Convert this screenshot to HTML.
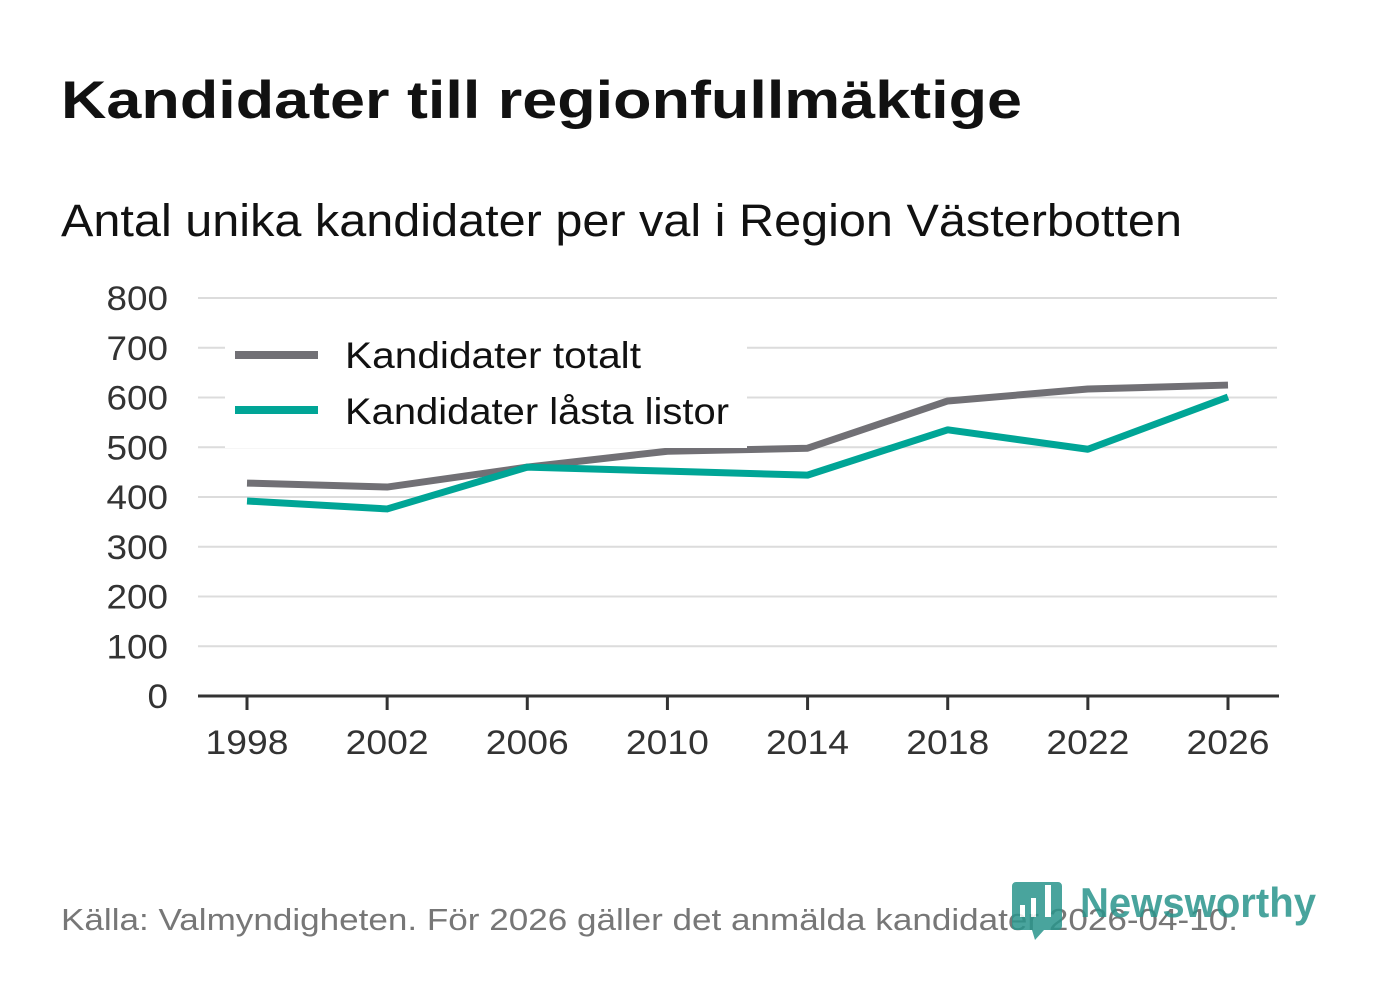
<!DOCTYPE html>
<html><head><meta charset="utf-8"><style>
body{margin:0;background:#fff;width:1382px;height:999px;overflow:hidden;font-family:"Liberation Sans",sans-serif}
svg{display:block}
</style></head><body>
<svg width="1382" height="999" id="svg">
<text x="61" y="118" font-size="53" font-weight="bold" fill="#111" textLength="961" lengthAdjust="spacingAndGlyphs">Kandidater till regionfullmäktige</text>
<text x="61" y="236" font-size="45" fill="#111" textLength="1121" lengthAdjust="spacingAndGlyphs">Antal unika kandidater per val i Region Västerbotten</text>
<g id="grid"></g><g id="lines"></g>
<g>
<rect x="225" y="346" width="522" height="102" fill="#fff"/>
<line x1="235" y1="355" x2="318" y2="355" stroke="#717075" stroke-width="8"/>
<text x="345" y="368" font-size="37" fill="#111" textLength="296" lengthAdjust="spacingAndGlyphs">Kandidater totalt</text>
<line x1="235" y1="410" x2="318" y2="410" stroke="#00a596" stroke-width="8"/>
<text x="345" y="424" font-size="37" fill="#111" textLength="384" lengthAdjust="spacingAndGlyphs">Kandidater låsta listor</text>
</g>
<text x="61" y="930" font-size="31" fill="#777" textLength="1177" lengthAdjust="spacingAndGlyphs">Källa: Valmyndigheten. För 2026 gäller det anmälda kandidater 2026-04-10.</text>
<g opacity="0.85">
<path d="M1016 882h42a4 4 0 0 1 4 4v40a4 4 0 0 1-4 4h-14l-9 10-3-10h-16a4 4 0 0 1-4-4v-40a4 4 0 0 1 4-4z" fill="#2a958c"/>
<rect x="1020" y="905" width="5" height="12" fill="#fff"/><rect x="1031" y="898" width="5" height="19" fill="#fff"/><rect x="1045" y="885" width="6" height="32" fill="#fff"/>
<text x="1080" y="917" font-size="42" font-weight="bold" fill="#2a958c" textLength="236" lengthAdjust="spacingAndGlyphs">Newsworthy</text>
</g>
</svg>
<script>
const years=[1998,2002,2006,2010,2014,2018,2022,2026];
const totalt=[428,420,460,492,498,593,617,625];
const lasta=[392,376,460,452,444,535,496,601];
const yTicks=[0,100,200,300,400,500,600,700,800];
const NS="http://www.w3.org/2000/svg";
const x=v=>247+(v-1998)*(1228-247)/28;
const y=v=>696-v*(696-298)/800;
function mk(t,a,p){const e=document.createElementNS(NS,t);for(const k in a)e.setAttribute(k,a[k]);p.appendChild(e);return e;}
const g=document.getElementById('grid');
yTicks.forEach(t=>{
 if(t>0){const l=mk('line',{x1:198,x2:1277,y1:y(t),y2:y(t),stroke:'#dcdcdc','stroke-width':2},g);
 
 }
 const s=String(t);
 const tx=mk('text',{x:168,y:y(t)+12,'font-size':34,fill:'#333','text-anchor':'end',textLength:s.length*20.5,lengthAdjust:'spacingAndGlyphs'},g);tx.textContent=s;
 
 
});
const ax=mk('line',{x1:198,x2:1279,y1:696,y2:696,stroke:'#333','stroke-width':3},g);


years.forEach(yr=>{
 const tk=mk('line',{x1:x(yr),x2:x(yr),y1:696,y2:710,stroke:'#333','stroke-width':3},g);
 
 
 const tx=mk('text',{x:x(yr),y:754,'font-size':34,fill:'#333','text-anchor':'middle',textLength:83,lengthAdjust:'spacingAndGlyphs'},g);tx.textContent=yr;
 
 
});
const lg=document.getElementById('lines');
[[totalt,'#717075','line-totalt'],[lasta,'#00a596','line-lasta']].forEach(([d,c,n])=>{
 const p=mk('polyline',{points:d.map((v,i)=>x(years[i])+','+y(v)).join(' '),fill:'none',stroke:c,'stroke-width':7,'stroke-linejoin':'round'},lg);
 
 
});
</script>
</body></html>
